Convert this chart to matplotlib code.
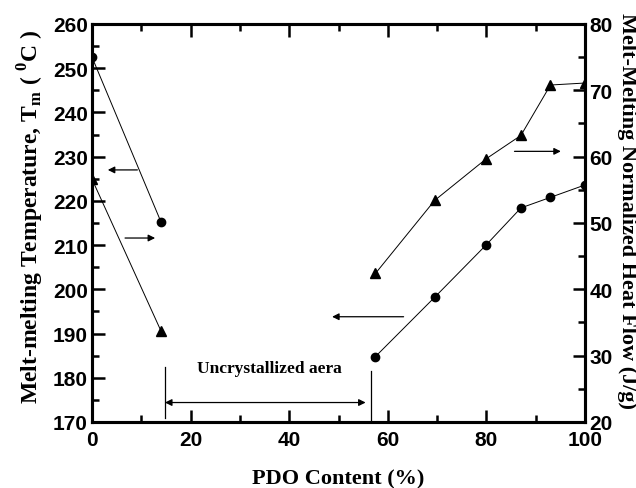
import matplotlib
matplotlib.use("Agg")
import matplotlib.pyplot as plt
from matplotlib.ticker import MultipleLocator

# PDO content (%) - crystallized ranges on both sides of the gap
pdo_low = [0, 14]
pdo_high = [57.5, 69.5, 80, 87, 93, 100]

# melt-melting temperature Tm (left axis)
tm_low = [252.5, 215.2]
tm_high = [184.8, 198.2, 210.1, 218.4, 220.8, 223.6]

# normalized heat flow (right axis)
hf_low = [56.6, 33.7]
hf_high = [42.4, 53.4, 59.7, 63.2, 70.8, 71.1]

SERIF = "Liberation Serif"
SANS = "Liberation Sans"

plt.rcParams["mathtext.fontset"] = "custom"
plt.rcParams["mathtext.rm"] = SERIF
plt.rcParams["mathtext.bf"] = SERIF + ":bold"

fig = plt.figure(figsize=(6.36, 4.89), dpi=100)
ax = fig.add_axes([0.1447, 0.135, 0.7751, 0.8139])
ax2 = ax.twinx()

line_kw = dict(color="black", lw=0.7)
ax.plot(pdo_low, tm_low, marker="o", ms=6, **line_kw)
ax.plot(pdo_high, tm_high, marker="o", ms=6, **line_kw)
ax2.plot(pdo_low, hf_low, marker="^", ms=7, **line_kw)
ax2.plot(pdo_high, hf_high, marker="^", ms=7, **line_kw)

ax.set_xlim(0, 100)
ax.set_ylim(170, 260)
ax2.set_ylim(20, 80)

ax.xaxis.set_major_locator(MultipleLocator(20))
ax.xaxis.set_minor_locator(MultipleLocator(10))
ax.yaxis.set_major_locator(MultipleLocator(10))
ax.yaxis.set_minor_locator(MultipleLocator(5))
ax2.yaxis.set_major_locator(MultipleLocator(10))
ax2.yaxis.set_minor_locator(MultipleLocator(5))

ax.tick_params(axis="x", which="both", direction="in", top=True, bottom=True, width=1.8)
ax.tick_params(axis="y", which="both", direction="in", left=True, right=False, width=1.8)
ax2.tick_params(axis="y", which="both", direction="in", right=True, width=1.8)
for a in (ax, ax2):
    a.tick_params(which="major", length=9)
    a.tick_params(which="minor", length=5)
    for sp in a.spines.values():
        sp.set_linewidth(2.2)

for a in (ax, ax2):
    for lab in a.get_xticklabels() + a.get_yticklabels():
        lab.set_fontfamily(SANS)
        lab.set_fontweight("bold")
        lab.set_fontsize(15)
ax.tick_params(axis="x", pad=6)
ax.tick_params(axis="y", pad=3)
ax2.tick_params(axis="y", pad=3)

ax.set_xlabel("PDO Content (%)", fontfamily=SERIF, fontweight="bold", fontsize=16, labelpad=14)
ax.set_ylabel(r"Melt-melting Temperature, T$_{\mathbf{m}}$ ( $^{\mathbf{0}}$C )",
              fontfamily=SERIF, fontweight="bold", fontsize=17, labelpad=5)
ax.yaxis.label.set_y(0.518)
ax2.set_ylabel("Melt-Melting Normalized Heat Flow (J/g)", fontfamily=SERIF,
               fontweight="bold", fontsize=16, rotation=-90, labelpad=18)
ax2.yaxis.label.set_y(0.533)

arrow = dict(arrowstyle="-|>", color="black", lw=0.9, mutation_scale=10, shrinkA=0, shrinkB=0)
ax.annotate("", xy=(3.2, 227), xytext=(9.2, 227), arrowprops=arrow)
ax.annotate("", xy=(12.8, 211.6), xytext=(6.7, 211.6), arrowprops=arrow)
ax.annotate("", xy=(48.7, 193.8), xytext=(63.2, 193.8), arrowprops=arrow)
ax2.annotate("", xy=(95.1, 60.8), xytext=(85.7, 60.8), arrowprops=arrow)

dbl = dict(arrowstyle="<|-|>", color="black", lw=0.9, mutation_scale=10, shrinkA=0, shrinkB=0)
ax.annotate("", xy=(14.8, 174.4), xytext=(55.5, 174.4), arrowprops=dbl)
ax.plot([14.8, 14.8], [182.5, 170.8], color="black", lw=0.9)
ax.plot([56.6, 56.6], [181.6, 170], color="black", lw=0.9)
ax.text(21.2, 182.3, "Uncrystallized aera", fontfamily=SERIF, fontweight="bold",
        fontsize=12.5, ha="left", va="center")

fig.savefig("out.png", dpi=100)
